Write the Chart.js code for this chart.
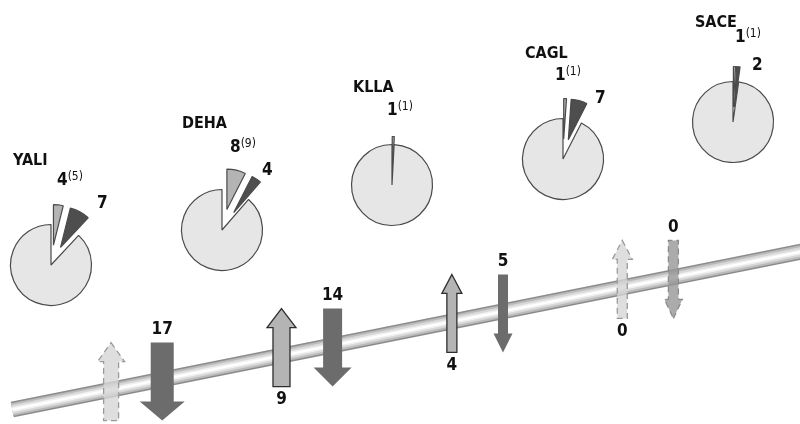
<!DOCTYPE html>
<html>
<head>
<meta charset="utf-8">
<script src="https://cdn.jsdelivr.net/npm/chart.js@4/dist/chart.umd.min.js"></script>
<style>
  body { margin: 0; background: #fff; }
  #wrap { position: relative; width: 800px; height: 424px; overflow: hidden; background: #fff; }
  #main { position: absolute; left: 0; top: 0; z-index: 2; }
  .pie { position: absolute; z-index: 1; }
</style>
</head>
<body>
<div id="wrap">
  <canvas id="main" width="800" height="424"></canvas>
</div>
<script>
// species and the numbers written next to each pie
const species = ['YALI', 'DEHA', 'KLLA', 'CAGL', 'SACE'];
const sharedCounts = [4, 8, 1, 1, 1];
const sharedTotals = [5, 9, 1, 1, 1];
const specificCounts = [7, 4, null, 7, 2];
// slice sizes (degrees of the circle)
const sharedSlice = [14, 27, 3, 4, 3];
const specificSlice = [29, 14, 0, 23, 5];
// gains (up arrows) and losses (down arrows) on the four branches
const branchGains = [null, 9, 4, 0];
const branchLosses = [17, 14, 5, 0];

// layout
const pieY = [265, 230, 185, 159, 122];
const pieExplode = [20, 21, 8, 20, 15];
const nameAt = [[13, 165], [182, 128], [353, 92], [525, 58], [695, 27]];
const sharedAt = [[57, 185], [230, 152], [387, 115], [555, 80], [735, 42]];
const specificAt = [[97, 208], [262, 175], null, [595, 103], [752, 70]];
const tubeEnds = [{ x: -0.23, y: 14.5 }, { x: 4.45, y: 174 }];
const DASH = [6, 4];
const upStyle = [
  { w: 15, head: 27, fill: 'rgba(214,214,214,0.8)', stroke: '#9a9a9a', dash: DASH },
  { w: 17, head: 29, fill: '#b4b4b4', stroke: '#2e2e2e' },
  { w: 10, head: 20, fill: '#b4b4b4', stroke: '#2e2e2e' },
  { w: 10, head: 20, fill: 'rgba(214,214,214,0.8)', stroke: '#9a9a9a', dash: DASH }
];
const downStyle = [
  { w: 23, head: 45, fill: '#6c6c6c' },
  { w: 19, head: 38, fill: '#6c6c6c' },
  { w: 10, head: 19, fill: '#6c6c6c' },
  { w: 10, head: 18, fill: 'rgba(150,150,150,0.8)', stroke: '#8a8a8a', dash: DASH }
];
const ARROW_LEN = 78, HEAD_LEN = 19, SIDE = 0.15;
const FONT = '"DejaVu Sans Condensed", "DejaVu Sans", sans-serif';

function drawArrow(ctx, x, top, up, st) {
  const bottom = top + ARROW_LEN;
  const hw = st.w / 2, hh = st.head / 2;
  ctx.beginPath();
  if (up) {
    ctx.moveTo(x, top);
    ctx.lineTo(x + hh, top + HEAD_LEN);
    ctx.lineTo(x + hw, top + HEAD_LEN);
    ctx.lineTo(x + hw, bottom);
    ctx.lineTo(x - hw, bottom);
    ctx.lineTo(x - hw, top + HEAD_LEN);
    ctx.lineTo(x - hh, top + HEAD_LEN);
  } else {
    ctx.moveTo(x, bottom);
    ctx.lineTo(x + hh, bottom - HEAD_LEN);
    ctx.lineTo(x + hw, bottom - HEAD_LEN);
    ctx.lineTo(x + hw, top);
    ctx.lineTo(x - hw, top);
    ctx.lineTo(x - hw, bottom - HEAD_LEN);
    ctx.lineTo(x - hh, bottom - HEAD_LEN);
  }
  ctx.closePath();
  ctx.fillStyle = st.fill;
  ctx.fill();
  if (st.stroke) {
    ctx.setLineDash(st.dash || []);
    ctx.strokeStyle = st.stroke;
    ctx.lineWidth = 1.3;
    ctx.stroke();
    ctx.setLineDash([]);
  }
}

const arrowsPlugin = {
  id: 'arrows',
  afterDatasetsDraw(chart) {
    const ctx = chart.ctx;
    const xs = chart.scales.x;
    const pts = chart.getDatasetMeta(0).data;
    const tubeY = x => pts[0].y + (x - pts[0].x) * (pts[1].y - pts[0].y) / (pts[1].x - pts[0].x);
    ctx.save();
    ctx.font = 'bold 17px ' + FONT;
    ctx.textAlign = 'center';
    ctx.textBaseline = 'middle';
    branchLosses.forEach((loss, i) => {
      const top = tubeY(xs.getPixelForValue(i + 0.5)) - ARROW_LEN / 2 - 3;
      const xu = xs.getPixelForValue(i + 0.5 - SIDE);
      const xd = xs.getPixelForValue(i + 0.5 + SIDE);
      drawArrow(ctx, xu, top, true, upStyle[i]);
      drawArrow(ctx, xd, top, false, downStyle[i]);
      ctx.fillStyle = '#111';
      if (branchGains[i] !== null) ctx.fillText(String(branchGains[i]), xu, top + ARROW_LEN + 13);
      ctx.fillText(String(loss), xd, top - 13);
    });
    ctx.restore();
  },
  afterDraw(chart) {
    const ctx = chart.ctx;
    ctx.save();
    ctx.fillStyle = '#111';
    ctx.textBaseline = 'alphabetic';
    species.forEach((name, i) => {
      ctx.font = 'bold 16px ' + FONT;
      ctx.fillText(name, nameAt[i][0], nameAt[i][1]);
      ctx.font = 'bold 17px ' + FONT;
      const s = String(sharedCounts[i]);
      ctx.fillText(s, sharedAt[i][0], sharedAt[i][1]);
      const w = ctx.measureText(s).width;
      if (specificAt[i]) ctx.fillText(String(specificCounts[i]), specificAt[i][0], specificAt[i][1]);
      ctx.font = '12px ' + FONT;
      ctx.fillText('(' + sharedTotals[i] + ')', sharedAt[i][0] + w, sharedAt[i][1] - 5);
    });
    ctx.restore();
  }
};

const tubeLayers = [[2, '#ffffff'], [5, '#f1f1f1'], [9, '#d8d8d8'], [13, '#bababa'], [16, '#8c8c8c']];

const main = new Chart(document.getElementById('main'), {
  type: 'scatter',
  data: {
    datasets: tubeLayers.map(([w, c]) => ({
      data: tubeEnds,
      showLine: true,
      borderColor: c,
      borderWidth: w,
      pointRadius: 0,
      clip: false
    }))
  },
  options: {
    responsive: false,
    animation: false,
    events: [],
    layout: { padding: 0 },
    plugins: { legend: { display: false }, tooltip: { enabled: false } },
    scales: {
      x: { type: 'linear', min: -0.302, max: 4.393, display: false },
      y: { type: 'linear', min: 0, max: 424, display: false }
    }
  },
  plugins: [arrowsPlugin]
});

const explodePlugin = {
  id: 'explode',
  afterUpdate(chart, args, opts) {
    chart.getDatasetMeta(0).data.forEach((arc, i) => {
      if (i > 1) return;
      const mid = (arc.startAngle + arc.endAngle) / 2;
      arc.x += Math.cos(mid) * opts.distance;
      arc.y += Math.sin(mid) * opts.distance;
    });
  }
};

species.forEach((name, i) => {
  const cv = document.createElement('canvas');
  cv.width = 140;
  cv.height = 140;
  cv.className = 'pie';
  cv.style.left = (main.scales.x.getPixelForValue(i) - 70) + 'px';
  cv.style.top = (pieY[i] - 70) + 'px';
  document.getElementById('wrap').appendChild(cv);
  new Chart(cv, {
    type: 'pie',
    data: {
      labels: ['shared', 'specific', 'other'],
      datasets: [{
        data: [sharedSlice[i], specificSlice[i], 360 - sharedSlice[i] - specificSlice[i]],
        backgroundColor: ['#b4b4b4', '#4e4e4e', '#e6e6e6'],
        borderColor: '#4a4a4a',
        borderWidth: 1.2
      }]
    },
    options: {
      responsive: false,
      animation: false,
      events: [],
      radius: 40.5,
      layout: { padding: 0 },
      plugins: {
        legend: { display: false },
        tooltip: { enabled: false },
        explode: { distance: pieExplode[i] }
      }
    },
    plugins: [explodePlugin]
  });
});
</script>
</body>
</html>
